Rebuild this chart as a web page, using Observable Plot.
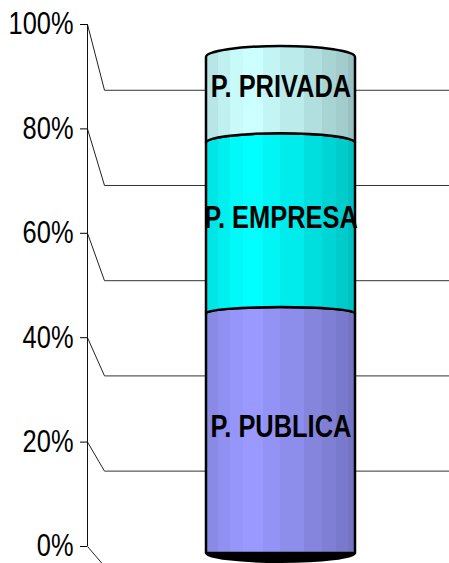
<!DOCTYPE html>
<html>
<head>
<meta charset="utf-8">
<script src="https://cdn.jsdelivr.net/npm/d3@7"></script>
<script src="https://cdn.jsdelivr.net/npm/@observablehq/plot@0.6"></script>
<style>
  html, body { margin: 0; padding: 0; background: white; }
  #chart { position: relative; width: 449px; height: 563px; overflow: hidden; }
  #chart svg { position: absolute; left: 0; top: 0; }
</style>
</head>
<body>
<div id="chart"></div>
<script>
// ---- data ----
const barName = "Total";
const categories = ["P. PUBLICA", "P. EMPRESA", "P. PRIVADA"];
const values = [48.5, 34.3, 17.2];
const baseColors = ["#9999ff", "#00ffff", "#ccffff"];
const tickValues = [0, 20, 40, 60, 80, 100];

// ---- style / perspective parameters ----
const FONT = "'Liberation Sans', Arial, sans-serif";
const NARROW = 0.82;                                  // horizontal squeeze (Arial Narrow look)
const backX = 4.7;                                   // depth shift of back wall (x units)
const backY = v => -3.8 + 0.912 * v;                  // back-wall projection of a percentage
const stripEdges = [0, .08, .16, .25, .38, .50, .66, .78, .87, .95, 1];
const stripShade = [0.90, 0.94, 0.98, 1.0, 0.96, 0.92, 0.87, 0.83, 0.80, 0.76];

const rows = categories.map((name, i) => ({name, value: values[i]}));
const cum = [0, ...d3.cumsum(values)];

// ---- walls & axis ----
const walls = Plot.plot({
  width: 449, height: 563,
  marginLeft: 87, marginRight: 0, marginTop: 24, marginBottom: 17,
  x: {domain: [0, 100], axis: null},
  y: {domain: [0, 100], ticks: tickValues, tickFormat: d => d + "%", tickSize: 7, tickPadding: 7, label: null},
  style: {background: "white", fontFamily: FONT, fontSize: "31px", color: "#000"},
  marks: [
    Plot.link(tickValues, {x1: 0, y1: d => d, x2: backX, y2: backY, stroke: "#222", strokeWidth: 1}),
    Plot.link(tickValues, {x1: backX, y1: backY, x2: 100, y2: backY, stroke: "#333", strokeWidth: 1}),
    Plot.ruleX([0], {y1: 0, y2: 100, stroke: "#111", strokeWidth: 1})
  ]
});

// ---- cylinder ----
function bandwidthOf(s) { return typeof s.bandwidth === "function" ? s.bandwidth() : s.bandwidth; }

function cylinder(index, scales) {
  const x = scales.x, y = scales.y;
  const x0 = x(barName), w = bandwidthOf(x), x1 = x0 + w, rx = w / 2;
  const yTop = y(100);
  const ryAt = v => v === 0 ? 0 : Math.max(0, 11 - 0.019 * (y(v) - yTop));
  const g = d3.create("svg:g");
  const defs = g.append("defs");
  baseColors.forEach((c, i) => {
    const grad = defs.append("linearGradient").attr("id", "cyl" + i)
      .attr("x1", 0).attr("x2", 1).attr("y1", 0).attr("y2", 0);
    const base = d3.rgb(c);
    stripShade.forEach((f, k) => {
      const col = d3.rgb(Math.min(255, base.r * f), Math.min(255, base.g * f), Math.min(255, base.b * f)).formatHex();
      grad.append("stop").attr("offset", stripEdges[k]).attr("stop-color", col);
      grad.append("stop").attr("offset", stripEdges[k + 1]).attr("stop-color", col);
    });
  });
  const y0 = y(0);
  g.append("path")
    .attr("d", `M${x0},${y0} A${rx},9 0 0 0 ${x1},${y0} Z`)
    .attr("fill", "#000").attr("stroke", "#000").attr("stroke-width", 2);
  categories.forEach((c, i) => {
    const lo = cum[i], hi = cum[i + 1];
    const yLo = y(lo), yHi = y(hi), ryLo = ryAt(lo), ryHi = ryAt(hi);
    const d = `M${x0},${yHi + ryHi} A${rx},${ryHi} 0 0 1 ${x1},${yHi + ryHi}` +
              ` L${x1},${yLo + ryLo}` +
              (ryLo > 0 ? ` A${rx},${ryLo} 0 0 0 ${x0},${yLo + ryLo}` : ` L${x0},${yLo}`) + " Z";
    g.append("path").attr("d", d)
      .attr("fill", `url(#cyl${i})`)
      .attr("stroke", "#000").attr("stroke-width", 2.5).attr("stroke-linejoin", "round");
  });
  return g.node();
}

const cyl = Plot.plot({
  width: 449, height: 563,
  marginLeft: 87, marginRight: 0, marginTop: 46, marginBottom: 10,
  x: {type: "band", domain: [barName], padding: 0.417, align: 0.559, axis: null},
  y: {domain: [0, 100], axis: null},
  style: {background: "transparent", fontFamily: FONT, fontSize: "30px", color: "#000"},
  marks: [
    cylinder,
    Plot.text(rows, Plot.stackY({
      x: () => barName, y: "value", text: "name",
      fontWeight: "bold", fontSize: 31, fill: "#000", dy: -3
    }))
  ]
});

document.getElementById("chart").append(walls, cyl);

// condense all texts horizontally to mimic a narrow typeface
document.querySelectorAll("#chart text").forEach(t => {
  const len = t.getComputedTextLength();
  if (len > 0) {
    t.setAttribute("textLength", (len * NARROW).toFixed(1));
    t.setAttribute("lengthAdjust", "spacingAndGlyphs");
  }
});
</script>
</body>
</html>
